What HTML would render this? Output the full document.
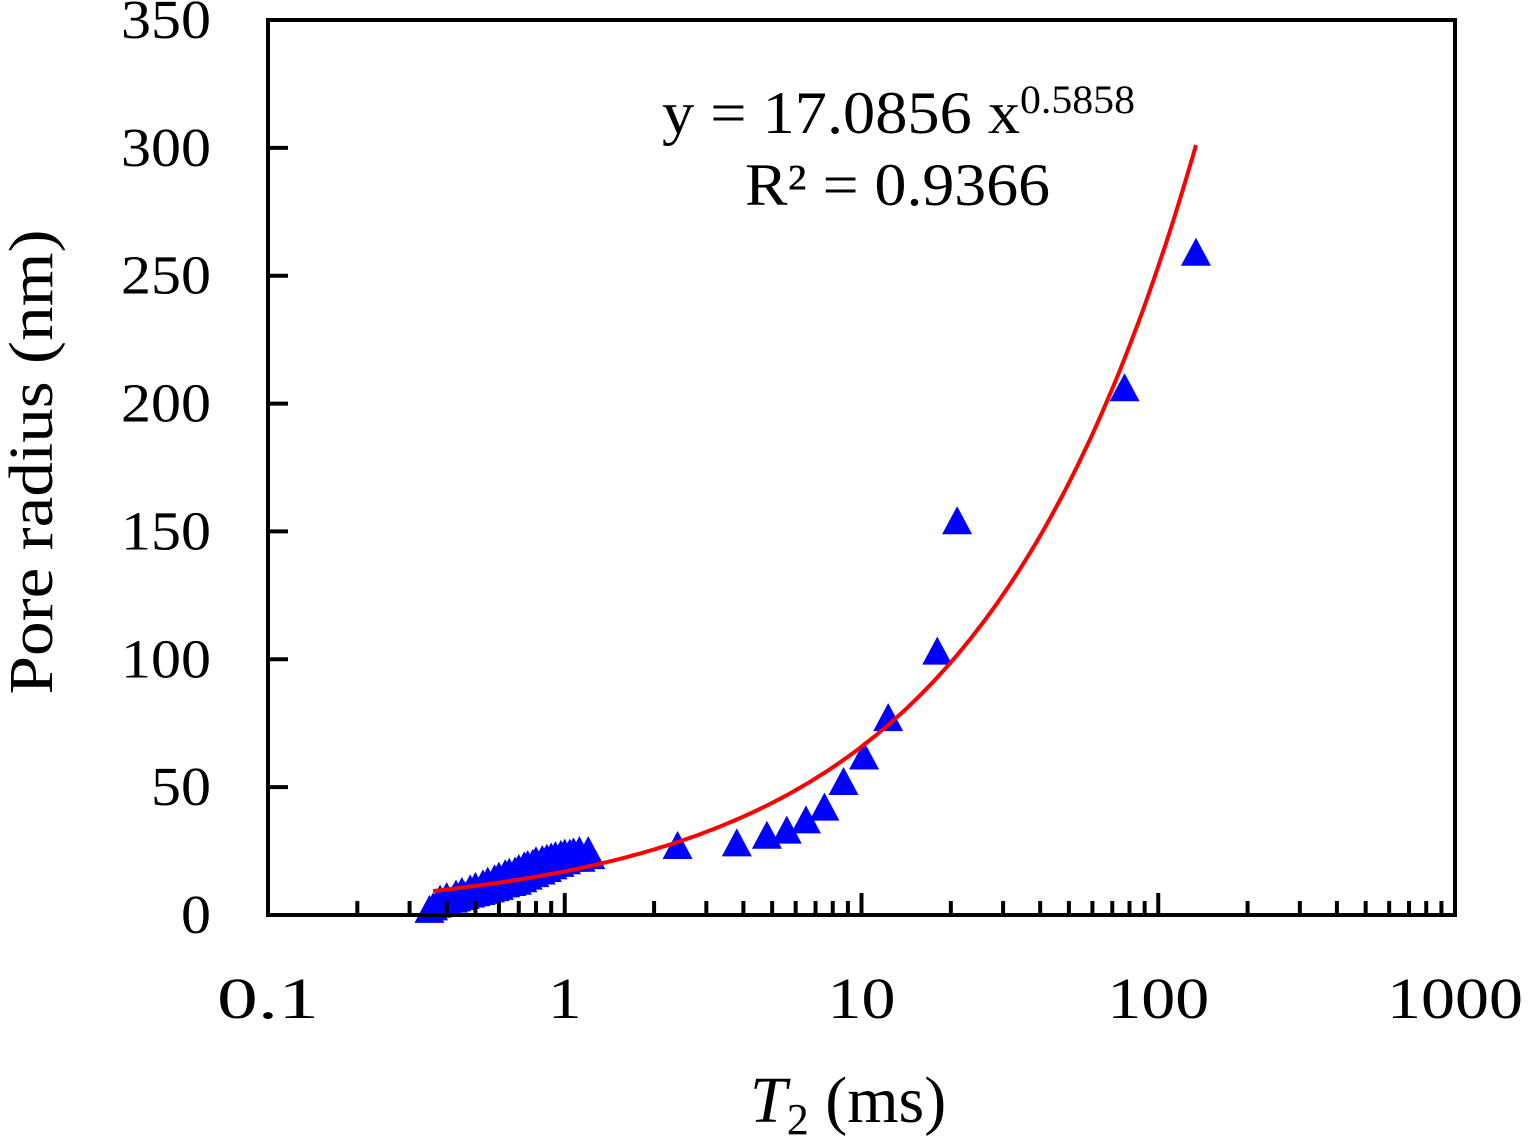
<!DOCTYPE html>
<html><head><meta charset="utf-8"><style>
html,body{margin:0;padding:0;background:#fff;width:1528px;height:1138px;overflow:hidden}
svg text{font-family:"Liberation Serif",serif;fill:#000}
</style></head><body>
<svg id="chart" width="1528" height="1138" viewBox="0 0 1528 1138" xmlns="http://www.w3.org/2000/svg">
<g id="marks"></g>
<g id="axes"></g>
<text x="662" y="133" font-size="60" textLength="358" lengthAdjust="spacingAndGlyphs">y = 17.0856 x</text>
<text x="1020" y="113" font-size="40" textLength="115" lengthAdjust="spacingAndGlyphs">0.5858</text>
<text x="745" y="205" font-size="60" textLength="305" lengthAdjust="spacingAndGlyphs">R² = 0.9366</text>
<text transform="translate(52,462) rotate(-90)" text-anchor="middle" font-size="62" textLength="465" lengthAdjust="spacingAndGlyphs">Pore radius (nm)</text>
<text x="750" y="1122" font-size="66"><tspan font-style="italic">T</tspan><tspan font-size="44" dy="12">2</tspan><tspan dy="-12"> (ms)</tspan></text>
</svg>
<script>
const xTicks = [0.1, 1, 10, 100, 1000];
const xTickLabels = ["0.1", "1", "10", "100", "1000"];
const yTicks = [0, 50, 100, 150, 200, 250, 300, 350];
const t2Values = [0.35,0.36,0.37,0.38,0.39,0.40,0.42,0.43,0.45,0.46,0.48,0.50,0.52,0.54,0.56,0.58,0.60,0.63,0.66,0.69,0.72,0.75,0.79,0.83,0.87,0.91,0.96,1.01,1.07,1.13,1.22,
  0.38,0.40,0.43,0.45,0.48,0.50,0.53,0.55,0.58,0.60,0.63,0.65,0.68,0.70,0.73,0.75,0.78,0.80,0.84,0.87,0.90,0.93,0.97,1.00,1.04,1.07,1.12,1.20,
  2.4,3.8,4.8,5.6,6.5,7.5,8.7,10.2,12.3,18,21,77,134];
const radiusValues = [2,3,4,4.5,5,5.5,6,6.5,7,7.5,8,8.5,9,9.5,10,10.5,11,12,12.5,13,14,15,16,17,18,19,20,21,22,22,23,
  6,7,8,9,10,11,12,13,14,15,16,16.5,17,18,19,19.5,20,21,21.5,22,22.5,23,23.5,24,24,24.5,25,25,
  27,28,31,33,37,42,52,62,77,103,154,206,259];
const fitA = 17.0856, fitB = 0.5858, fitMin = 0.36, fitMax = 134;

const L=268,R=1455,T=20,B=915;
const xs = v => L + (Math.log10(v) + 1) / 4 * (R - L);
const ys = v => B - v / 350 * (B - T);
const NS='http://www.w3.org/2000/svg';
function mk(tag, parent, attrs){const e=document.createElementNS(NS,tag);for(const k in attrs)e.setAttribute(k,attrs[k]);parent.appendChild(e);return e;}
const axes=document.getElementById('axes'), marks=document.getElementById('marks');

t2Values.forEach((t,i)=>{
  const cx=xs(t), cy=ys(radiusValues[i]);
  const p=mk('polygon',marks,{points:`${cx},${cy-15} ${cx-15},${cy+13} ${cx+15},${cy+13}`,fill:'#0000ff'});
  
  
});
let d='';
for(let k=0;k<=200;k++){const lx=Math.log10(fitMin)+(Math.log10(fitMax)-Math.log10(fitMin))*k/200;const x=Math.pow(10,lx);d+=(k?'L':'M')+xs(x).toFixed(1)+','+ys(fitA*Math.pow(x,fitB)).toFixed(1);}
const fit=mk('path',marks,{d:d,fill:'none',stroke:'#ff0000','stroke-width':4});



const fr=mk('rect',axes,{x:L,y:T,width:R-L,height:B-T,fill:'none',stroke:'#000','stroke-width':4});



xTicks.forEach((v,i)=>{
  const x=xs(v);
  if(i>0&&i<xTicks.length-1){const t=mk('line',axes,{x1:x,x2:x,y1:B,y2:B-22,stroke:'#000','stroke-width':4});
  
  }
  const s=xTickLabels[i];
  const lb=mk('text',axes,{x:x-s.length*17,y:1018,'font-size':58,textLength:s.length*34,lengthAdjust:'spacingAndGlyphs'});
  lb.textContent=s;
  
  
  if(i<xTicks.length-1){for(let m=2;m<=9;m++){const mx=xs(v*m);
    const t=mk('line',axes,{x1:mx,x2:mx,y1:B,y2:B-14,stroke:'#000','stroke-width':4});
    
    }}
});
yTicks.forEach(v=>{
  const y=ys(v);
  if(v>0&&v<350){const t=mk('line',axes,{x1:L,x2:L+20,y1:y,y2:y,stroke:'#000','stroke-width':4});
  
  }
  const s=String(v);
  const lb=mk('text',axes,{x:211-s.length*30,y:y+18,'font-size':55,textLength:s.length*30,lengthAdjust:'spacingAndGlyphs'});
  lb.textContent=s;
  
  
});
</script>
</body></html>
